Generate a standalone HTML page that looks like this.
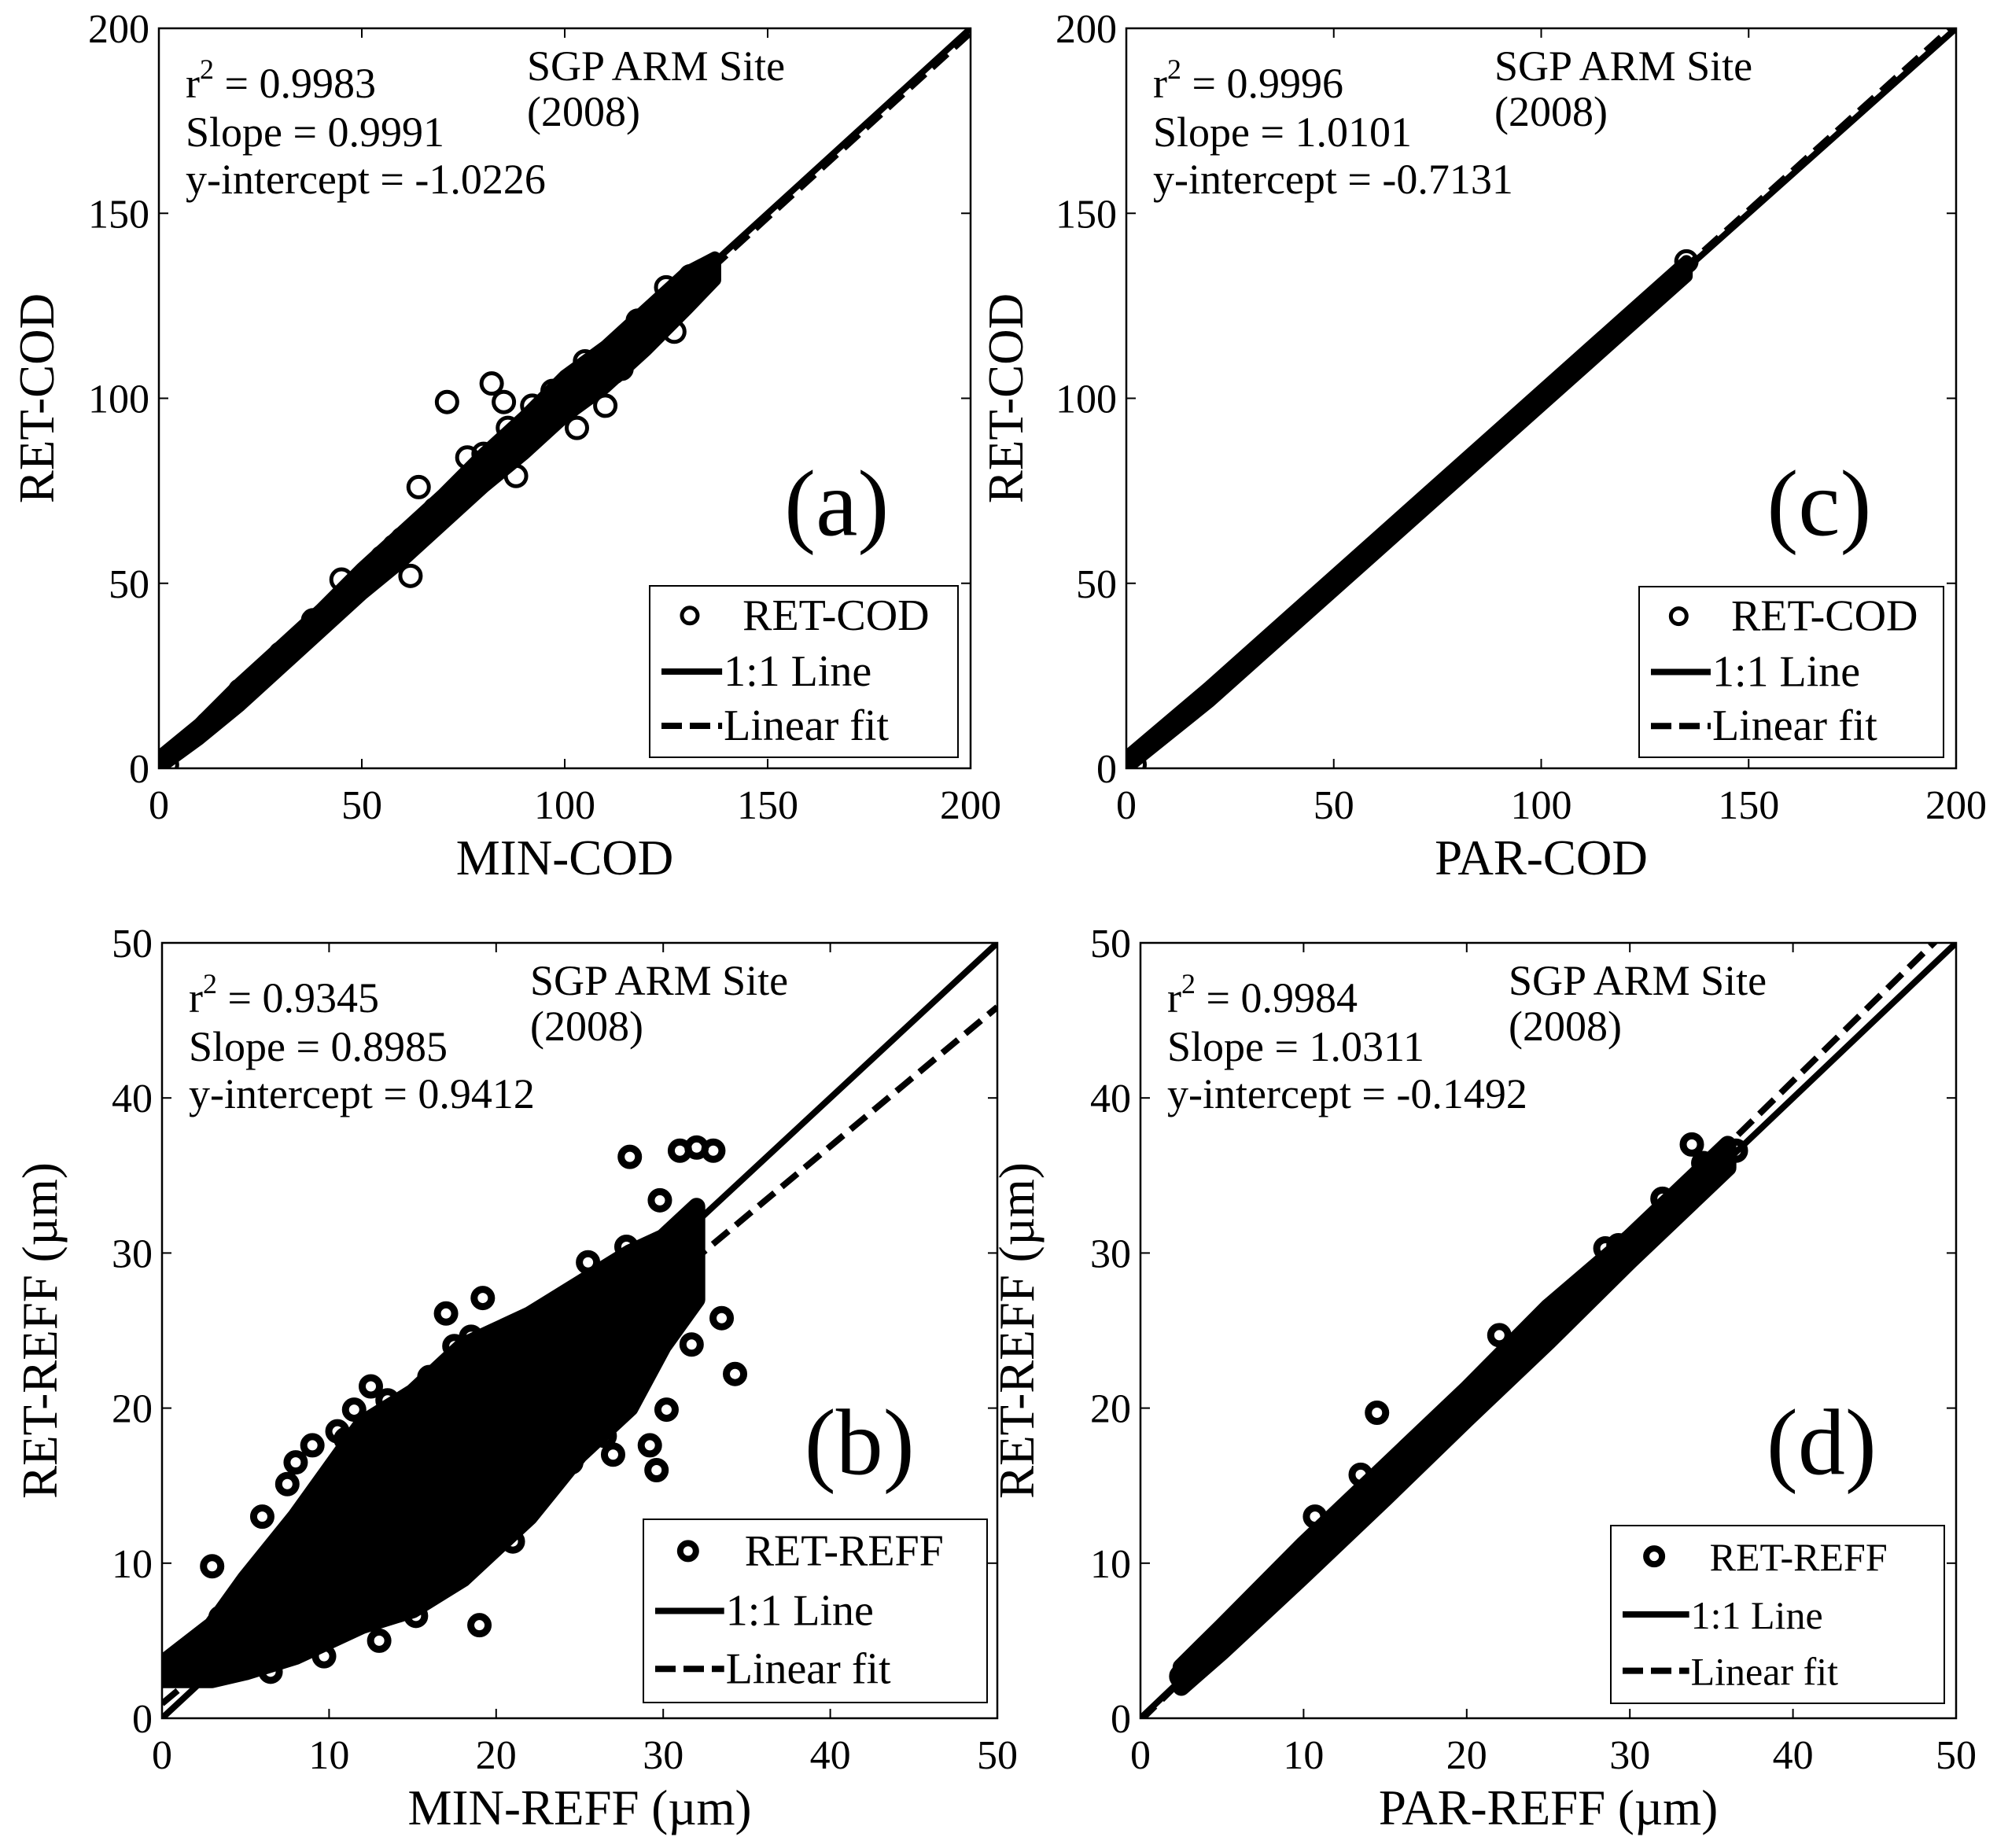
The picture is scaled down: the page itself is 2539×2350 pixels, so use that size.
<!DOCTYPE html>
<html><head><meta charset="utf-8"><style>
html,body{margin:0;padding:0;background:#fff}
svg{display:block}
text{font-family:"Liberation Serif",serif;fill:#000}
</style></head><body>
<svg id="fig" width="2539" height="2350" viewBox="0 0 2539 2350" xmlns="http://www.w3.org/2000/svg"></svg>
<script>
// ---- Panel (a) data ----
const aBandX=[0,10,20,30,40,50,60,70,80,90,100,110,120,130,137];
const aBandLo=[0,8,17,27,37,47,56,66,76,85,95,103,113,124,132];
const aBandHi=[3,12,23,33,43,54,64,74,85,95,106,114,124,134,138];
const aOutX=[71,82,85,64,76,45,62,88,103,110,127,133,86,2,114,131,58,60,68,73,80,92,97,105,108,118,122,125,38,30,20,12,55,66,94,112];
const aOutY=[99,104,99,76,84,51,52,79,92,98,118,130,92,1,108,133,60,62,70,75,85,98,102,110,110,121,123,130,40,31,21,12,57,66,93,107];
// ---- Panel (c) data ----
const cBandX=[0,20,40,60,80,100,120,135];
const cBandLo=[0,18,38,58,78,98,118,133];
const cBandHi=[3,22,42,62,82,102,122,137];
const cOutX=[2,135];
const cOutY=[1,137];
// ---- Panel (b) data ----
const bBandX=[0,3,5,8,10,12,15,18,20,22,25,28,30,32];
const bBandLo=[2.5,2.5,3,4,5,6,7,9,11,13,17,20,24,27];
const bBandHi=[3.5,6,9,13,16,19,21,24,25,26,28,30,31,33];
const bOutX=[0.5,3,19,28,29.8,31,32,33,34.3,33.5,31.7,30.5,29.6,29.2,30.2,5,7.5,9,12.5,15,17,18.5,19.2,27.8,25.5,24,20,21,16.2,15.2,13,9.7,6.5,22.5,26.5,27,3.5,11.5,17.5,6,8,10.5,11,13.5,14,16,18,20.5,22,23.5,24,26,4,5.5,7,9,10,12,14.5,16.5,18,21.5,24.5,27.5,28.5,30.8,31.5];
const bOutY=[3.3,9.8,6,36.2,33.4,36.6,36.8,36.6,22.2,25.8,24.1,30.3,16,17.6,19.9,8.6,15.1,17.6,21.4,20.5,26.1,24.6,27.1,30.4,29.4,26.3,11.6,11.4,8.3,6.6,5,4,3,15.2,18.2,17,6.5,19.9,24,13,16.5,18.5,18,20.5,19.5,22,23.5,24.5,25.5,26.3,26.5,28,4,5,5.5,6,7.5,8,7.3,10.5,12.5,13,16.5,21,25,29,32];
// ---- Panel (d) data ----
const dBandX=[2.5,5,10,15,20,25,30,33,36];
const dBandLo=[2,4.3,9.2,14.2,19.3,24.3,29.5,32.5,35.5];
const dBandHi=[3.3,5.9,11.2,16.2,21.2,26.5,31,34,37];
const dOutX=[14.5,22,28.5,32,33.8,36.5,10.7,13.5,29.3,31,34.5,2.5];
const dOutY=[19.7,24.7,30.3,33.5,37,36.6,13,15.7,30.5,31,35.8,2.7];
// ---- Fit / axes ----
const fitSlopes=[0.9991,1.0101,0.8985,1.0311];
const fitIntercepts=[-1.0226,-0.7131,0.9412,-0.1492];
const codTicks=[0,50,100,150,200];
const reffTicks=[0,10,20,30,40,50];

const NS="http://www.w3.org/2000/svg";
const svg=document.getElementById('fig');
function mk(tag,attrs,parent){const e=document.createElementNS(NS,tag);for(const k in attrs)e.setAttribute(k,attrs[k]);(parent||svg).appendChild(e);return e;}

const panels=[
 {id:'a',box:[202,36,1234,977],max:200,ticks:codTicks,bx:aBandX,lo:aBandLo,hi:aBandHi,ox:aOutX,oy:aOutY,
  xl:'MIN-COD',yl:'RET-COD',ylx:48,leg:[826,745,1218,963],legName:'RET-COD',r2:'0.9983',k:0,fat:false},
 {id:'c',box:[1432,36,2487,977],max:200,ticks:codTicks,bx:cBandX,lo:cBandLo,hi:cBandHi,ox:cOutX,oy:cOutY,
  xl:'PAR-COD',yl:'RET-COD',ylx:1280,leg:[2084,746,2471,963],legName:'RET-COD',r2:'0.9996',k:1,fat:false},
 {id:'b',box:[206,1199,1268,2185],max:50,ticks:reffTicks,bx:bBandX,lo:bBandLo,hi:bBandHi,ox:bOutX,oy:bOutY,
  xl:'MIN-REFF (\u00b5m)',yl:'RET-REFF (\u00b5m)',ylx:52,leg:[818,1932,1255,2165],legName:'RET-REFF',r2:'0.9345',k:2,fat:true},
 {id:'d',box:[1450,1199,2487,2185],max:50,ticks:reffTicks,bx:dBandX,lo:dBandLo,hi:dBandHi,ox:dOutX,oy:dOutY,
  xl:'PAR-REFF (\u00b5m)',yl:'RET-REFF (\u00b5m)',ylx:1294,leg:[2048,1940,2472,2166],legName:'RET-REFF',r2:'0.9984',k:3,fat:true}
];

panels.forEach(p=>{
 const [L,T,R,B]=p.box;
 const sx=v=>L+(R-L)*v/p.max, sy=v=>B-(B-T)*v/p.max;
 const g=mk('g',{});
 
 
 const defs=mk('clipPath',{id:'clip'+p.id},g);
 mk('rect',{x:L,y:T,width:R-L,height:B-T},defs);
 const plot=mk('g',{'clip-path':'url(#clip'+p.id+')'},g);
 let pts=[];
 for(let i=0;i<p.bx.length;i++)pts.push(sx(p.bx[i])+','+sy(p.hi[i]));
 for(let i=p.bx.length-1;i>=0;i--)pts.push(sx(p.bx[i])+','+sy(p.lo[i]));
 const band=mk('polygon',{points:pts.join(' '),fill:'#000',stroke:'#000','stroke-width':p.fat?22:16,'stroke-linejoin':'round'},plot);
 
 
 for(let i=0;i<p.ox.length;i++){
  const c=mk('circle',{cx:sx(p.ox[i]),cy:sy(p.oy[i]),r:p.fat?11:13,fill:'none',stroke:'#000','stroke-width':p.fat?9:5},plot);
  
  
 }
 const l1=mk('line',{x1:sx(0),y1:sy(0),x2:sx(p.max),y2:sy(p.max),stroke:'#000','stroke-width':8},plot);
 
 
 const s=fitSlopes[p.k],b0=fitIntercepts[p.k];
 const l2=mk('line',{x1:sx(0),y1:sy(b0),x2:sx(p.max),y2:sy(s*p.max+b0),stroke:'#000','stroke-width':8,'stroke-dasharray':'26 12'},plot);
 
 
 const fr=mk('rect',{x:L,y:T,width:R-L,height:B-T,fill:'none',stroke:'#000','stroke-width':2.5},g);
 
 
 p.ticks.forEach(t=>{
  const x=sx(t),y=sy(t);
  mk('line',{x1:x,y1:B,x2:x,y2:B-12,stroke:'#000','stroke-width':2},g);
  mk('line',{x1:x,y1:T,x2:x,y2:T+12,stroke:'#000','stroke-width':2},g);
  mk('line',{x1:L,y1:y,x2:L+12,y2:y,stroke:'#000','stroke-width':2},g);
  mk('line',{x1:R,y1:y,x2:R-12,y2:y,stroke:'#000','stroke-width':2},g);
  const xt=mk('text',{x:x,y:B+64,'font-size':52,'text-anchor':'middle'},g);xt.textContent=t;
  
  
  const yt=mk('text',{x:L-12,y:y+18,'font-size':52,'text-anchor':'end'},g);yt.textContent=t;
  
  
 });
 const xa=mk('text',{x:(L+R)/2,y:B+135,'font-size':63,'text-anchor':'middle'},g);xa.textContent=p.xl;
 
 
 const ya=mk('text',{x:0,y:0,'font-size':63,'text-anchor':'middle',transform:`translate(${p.ylx+20},${(T+B)/2}) rotate(-90)`},g);ya.textContent=p.yl;
 
 
 const st=mk('text',{x:L+34,y:T+88,'font-size':54},g);
 st.innerHTML='r<tspan dy="-24" font-size="36">2</tspan><tspan dy="24"> = '+p.r2+'</tspan>';
 
 
 const sl=mk('text',{x:L+34,y:T+150,'font-size':54},g);sl.textContent='Slope = '+s.toFixed(4);
 
 
 const yi=mk('text',{x:L+34,y:T+210,'font-size':54},g);yi.textContent='y-intercept = '+b0.toFixed(4);
 
 
 const sg=mk('text',{x:L+468,y:T+66,'font-size':54},g);sg.textContent='SGP ARM Site';
 
 
 const yr=mk('text',{x:L+468,y:T+124,'font-size':54},g);yr.textContent='(2008)';
 
 
 const pl=mk('text',{x:L+(R-L)*0.835,y:T+(B-T)*0.685,'font-size':120,'text-anchor':'middle'},g);pl.textContent='('+p.id+')';
 
 
 const [lx1,ly1,lx2,ly2]=p.leg;
 const lg=mk('g',{},g);
 
 
 mk('rect',{x:lx1,y:ly1,width:lx2-lx1,height:ly2-ly1,fill:'#fff',stroke:'#000','stroke-width':2},lg);
 const rowH=(ly2-ly1)/3;
 const mx=lx1+(lx2-lx1)*0.13, ls=lx1+15, le=lx1+(lx2-lx1)*0.235, tx=le+2;
 const r1=ly1+rowH*0.52, r2=ly1+rowH*1.5, r3=ly1+rowH*2.45;
 mk('circle',{cx:mx,cy:r1,r:10,fill:'none',stroke:'#000','stroke-width':p.fat?8:5},lg);
 mk('line',{x1:ls,y1:r2,x2:le,y2:r2,stroke:'#000','stroke-width':8},lg);
 mk('line',{x1:ls,y1:r3,x2:le,y2:r3,stroke:'#000','stroke-width':8,'stroke-dasharray':'26 10'},lg);
 const lt=[p.legName,'1:1 Line','Linear fit'],ry=[r1,r2,r3];
 lt.forEach((t,i)=>{const e=mk('text',{x:tx+(i==0?24:0),y:ry[i]+18,'font-size':p.id=='d'?50:56},lg);e.textContent=t;
  
  });
});
</script>
</body></html>
